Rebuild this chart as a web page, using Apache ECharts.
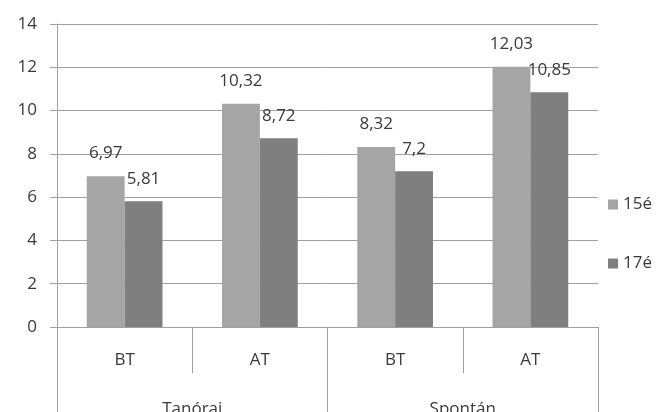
<!DOCTYPE html>
<html>
<head>
<meta charset="utf-8">
<script src="https://cdn.jsdelivr.net/npm/echarts@6/dist/echarts.min.js"></script>
<style>
  html, body { margin: 0; padding: 0; background: #fff; }
  #chart { width: 670px; height: 412px; }
</style>
</head>
<body>
<div id="chart"></div>
<script>
// Inner category level (measure) and outer level (session type)
const subCategories = ['BT', 'AT', 'BT', 'AT'];
const groupCategories = ['Tanórai', 'Spontán'];

// Series values
const seriesNames = ['15é', '17é'];
const values15 = [6.97, 10.32, 8.32, 12.03];
const values17 = [5.81, 8.72, 7.2, 10.85];

// Value-axis settings
const yMin = 0;
const yMax = 14;
const yStep = 2;

const textColor = '#3a3a3a';
const lineColor = '#a0a0a0';
const fontFamily = '"Open Sans", "Noto Sans", sans-serif';

const fmt = p => String(p.value).replace('.', ',');

const chart = echarts.init(document.getElementById('chart'), null, { renderer: 'canvas' });

chart.setOption({
  animation: false,
  backgroundColor: '#ffffff',
  textStyle: { fontFamily: fontFamily },
  grid: { left: 57, right: 72, top: 24, bottom: 85, containLabel: false, outerBoundsMode: 'none' },
  legend: {
    orient: 'vertical',
    left: 603,
    top: 191,
    itemWidth: 10,
    itemHeight: 10,
    itemGap: 42,
    icon: 'rect',
    data: seriesNames,
    textStyle: { fontSize: 17, color: textColor, fontFamily: fontFamily }
  },
  xAxis: [
    {
      type: 'category',
      position: 'bottom',
      data: subCategories,
      axisLine: { show: true, lineStyle: { color: lineColor, width: 1 } },
      axisTick: { show: true, interval: 0, length: 46, lineStyle: { color: lineColor } },
      axisLabel: { interval: 0, margin: 25, fontSize: 17, color: textColor, fontFamily: fontFamily },
      splitLine: { show: false }
    },
    {
      type: 'category',
      position: 'bottom',
      data: groupCategories,
      axisLine: { show: false },
      axisTick: { show: true, interval: 0, length: 120, lineStyle: { color: lineColor } },
      axisLabel: { interval: 0, margin: 74, fontSize: 17, color: textColor, fontFamily: fontFamily },
      splitLine: { show: false }
    }
  ],
  yAxis: {
    type: 'value',
    min: yMin,
    max: yMax,
    interval: yStep,
    axisLine: { show: true, lineStyle: { color: lineColor } },
    axisTick: { show: true, length: 7, lineStyle: { color: lineColor } },
    axisLabel: { margin: 20, fontSize: 17, color: textColor, fontFamily: fontFamily },
    splitLine: { show: true, lineStyle: { color: lineColor, width: 1 } }
  },
  series: [
    {
      name: seriesNames[0],
      type: 'bar',
      xAxisIndex: 0,
      data: values15,
      barGap: '0%',
      barCategoryGap: '44%',
      itemStyle: { color: '#a5a5a5' },
      label: { show: true, position: 'top', distance: 14, formatter: fmt, fontSize: 17, color: textColor, fontFamily: fontFamily }
    },
    {
      name: seriesNames[1],
      type: 'bar',
      xAxisIndex: 0,
      data: values17,
      barGap: '0%',
      barCategoryGap: '44%',
      itemStyle: { color: '#7f7f7f' },
      label: { show: true, position: 'top', distance: 14, formatter: fmt, fontSize: 17, color: textColor, fontFamily: fontFamily }
    }
  ]
});
</script>
</body>
</html>
